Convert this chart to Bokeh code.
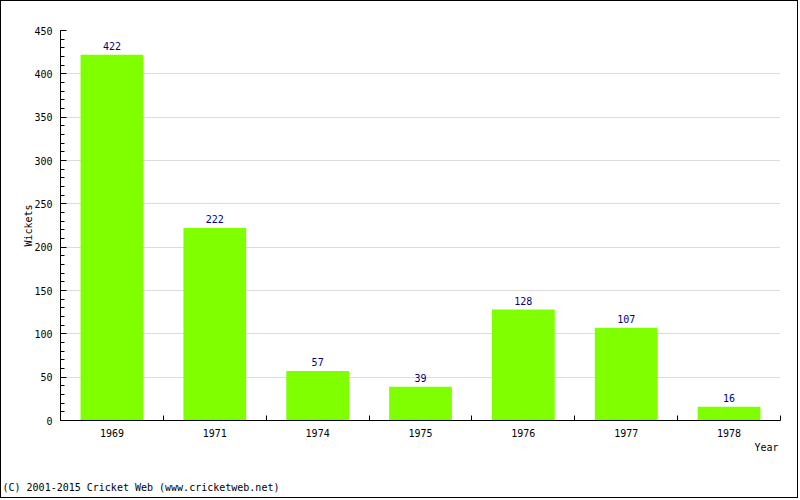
from bokeh.plotting import figure
from bokeh.models import ColumnDataSource, Range1d, FixedTicker, SingleIntervalTicker, LabelSet, Title
from bokeh.core.properties import value
from bokeh.embed import file_html
from bokeh.resources import INLINE

years = ["1969", "1971", "1974", "1975", "1976", "1977", "1978"]
wickets = [422, 222, 57, 39, 128, 107, 16]
y_max = 450
y_step = 50

FONT = "DejaVu Sans Mono"

xs = [i + 0.5 for i in range(len(years))]
src = ColumnDataSource(dict(x=xs, top=wickets, txt=[str(v) for v in wickets]))

p = figure(width=798, height=498, output_backend="svg", toolbar_location=None,
           x_range=Range1d(0, len(years)), y_range=Range1d(0, y_max),
           min_border_left=59, min_border_right=19, min_border_top=29, min_border_bottom=79)
p.styles = {"border": "1px solid black"}
p.outline_line_color = None
p.background_fill_color = "white"
p.border_fill_color = "white"

p.vbar(x="x", top="top", width=0.61, bottom=0, source=src, fill_color="#80ff00", line_color=None)

labels = LabelSet(x="x", y="top", text="txt", source=src, text_align="center", text_baseline="bottom",
                  y_offset=5, text_font=value(FONT), text_font_size="10px", text_color="#000080")
p.add_layout(labels)

# x axis
xa = p.xaxis[0]
xa.ticker = FixedTicker(ticks=xs, minor_ticks=list(range(len(years) + 1)))
xa.major_label_overrides = {x: y for x, y in zip(xs, years)}
xa.major_tick_in = 0
xa.major_tick_out = 0
xa.minor_tick_in = 5
xa.minor_tick_out = 0
xa.axis_line_color = "black"
xa.minor_tick_line_color = "black"
xa.major_label_text_font = FONT
xa.major_label_text_font_size = "10px"
xa.major_label_standoff = 8
xa.major_label_text_color = "black"

# y axis
ya = p.yaxis[0]
ya.ticker = SingleIntervalTicker(interval=y_step, num_minor_ticks=5)
ya.major_tick_in = 6
ya.major_tick_out = 0
ya.minor_tick_in = 4
ya.minor_tick_out = 0
ya.axis_line_color = "black"
ya.major_tick_line_color = "black"
ya.minor_tick_line_color = "black"
ya.major_label_text_font = FONT
ya.major_label_text_font_size = "10px"
ya.major_label_standoff = 8
ya.major_label_text_color = "black"
ya.axis_label = "Wickets"
ya.axis_label_text_font = FONT
ya.axis_label_text_font_size = "10px"
ya.axis_label_text_font_style = "normal"
ya.axis_label_text_color = "black"
ya.axis_label_standoff = -3

p.xgrid.visible = False
p.ygrid.ticker = SingleIntervalTicker(interval=y_step)
p.ygrid.grid_line_color = "#dcdcdc"

t_year = Title(text="Year", align="right", offset=2, standoff=0,
               text_font=FONT, text_font_size="10px", text_font_style="normal", text_color="black")
p.add_layout(t_year, "below")
t_copy = Title(text="\n\n(C) 2001-2015 Cricket Web (www.cricketweb.net)", align="left", offset=-58, standoff=11,
               vertical_align="bottom",
               text_font=FONT, text_font_size="10px", text_font_style="normal", text_color="black")
p.add_layout(t_copy, "below")

open("out.html", "w").write(file_html(p, INLINE))
